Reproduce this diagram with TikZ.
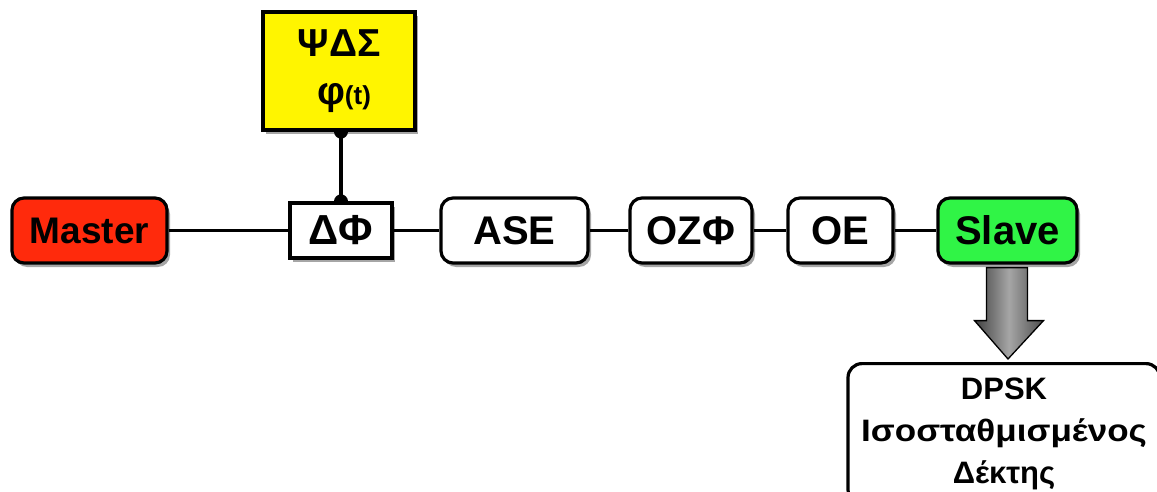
\documentclass[tikz,border=0pt]{standalone}
\usepackage{fontspec}
\setmainfont{Liberation Sans}
\usetikzlibrary{shadows,calc}
\definecolor{mred}{RGB}{255,42,12}
\definecolor{sgreen}{RGB}{48,244,70}
\definecolor{pyellow}{RGB}{255,245,0}
\begin{document}
\begin{tikzpicture}[x=1pt,y=-1pt,
  blk/.style={draw=black, line width=3.2pt, fill=white, rounded corners=12pt,
    minimum height=65pt, inner sep=0pt, font=\fontsize{40}{44}\selectfont\bfseries,
    drop shadow={shadow xshift=3pt, shadow yshift=-4pt, opacity=0.35, fill=black}},
  sq/.style={blk, rounded corners=0pt},
  wire/.style={line width=3.2pt, draw=black}
]
\useasboundingbox (0,0) rectangle (1157,492);
\clip (0,0) rectangle (1157,492);

% main chain
\node[blk, fill=mred, minimum width=155pt, font=\fontsize{37}{40}\selectfont\bfseries] (master) at (89.5,230.5) {Master};
\node[sq, minimum width=102pt, minimum height=55pt, font=\fontsize{42}{44}\selectfont\bfseries] (df) at (341,230.5) {ΔΦ};
\node[blk, minimum width=147pt] (ase) at (514.5,230.5) {ASE};
\node[blk, minimum width=122pt] (ozf) at (691,230.5) {ΟΖΦ};
\node[blk, minimum width=105pt] (oe) at (840.5,230.5) {ΟΕ};
\node[blk, fill=sgreen, minimum width=139pt] (slave) at (1007.5,230.5) {Slave};

% yellow box
\node[sq, fill=pyellow, minimum width=152pt, minimum height=118pt, align=center,
  font=\fontsize{39}{48}\selectfont\bfseries] (psd) at (339,71)
  {ΨΔΣ\\\hspace*{10pt}φ{\fontsize{26}{28}\selectfont(t)}};

% receiver box
\node[blk, rounded corners=14pt, minimum width=312pt, minimum height=140pt, anchor=north,
  align=center, font=\fontsize{31}{42}\selectfont\bfseries] (dpsk) at (1004,362)
  {DPSK\\\scalebox{1.13}[1]{Ισοσταθμισμένος}\\Δέκτης};

% wires
\draw[wire] (master) -- (df);
\draw[wire] (df) -- (ase);
\draw[wire] (ase) -- (ozf);
\draw[wire] (ozf) -- (oe);
\draw[wire] (oe) -- (slave);
\draw[wire] (df.north |- psd.south) -- (df.north);
\begin{scope}
\clip (psd.south west) rectangle (df.north east);
\fill (df.north |- psd.south) circle (7pt);
\fill (df.north) circle (7pt);
\end{scope}

% big arrow
\draw[line width=1.3pt, draw=black, left color=black!75, right color=black!70, middle color=black!35]
  ($(slave.south)+(-21,3)$) -- ($(slave.south)+(20,3)$) -- ($(slave.south)+(20,56)$)
  -- ($(slave.south)+(36,56)$) -- ($(dpsk.north)+(4,-3)$) -- ($(slave.south)+(-33,56)$)
  -- ($(slave.south)+(-21,56)$) -- cycle;
\end{tikzpicture}
\end{document}
